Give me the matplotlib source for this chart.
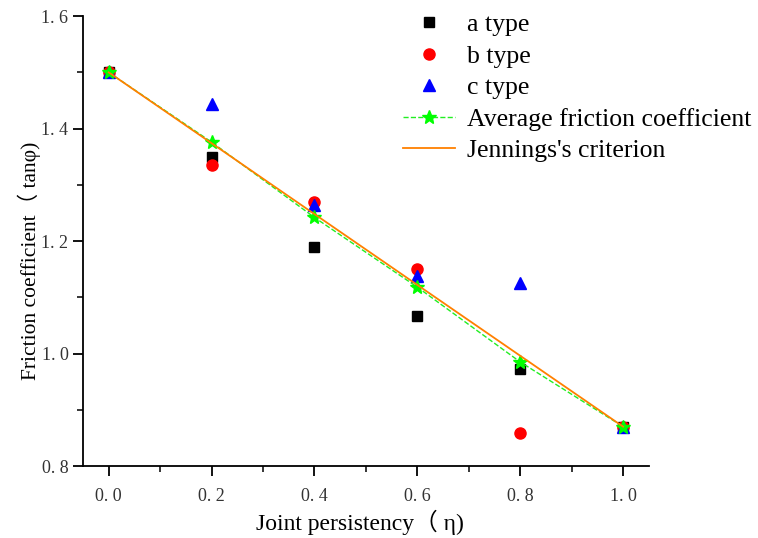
import numpy as np
import matplotlib
matplotlib.use('Agg')
import matplotlib.pyplot as plt
from matplotlib.ticker import MultipleLocator

plt.rcParams['font.family'] = ['Liberation Serif', 'Noto Sans CJK SC', 'DejaVu Sans']
plt.rcParams['mathtext.fontset'] = 'stix'

# data
eta = [0.0, 0.2, 0.4, 0.6, 0.8, 1.0]
a_type = [1.5, 1.350, 1.190, 1.067, 0.972, 0.870]
b_type = [1.5, 1.335, 1.270, 1.150, 0.858, 0.870]
c_type = [1.5, 1.443, 1.265, 1.138, 1.126, 0.870]
avg_coef = [1.5, 1.376, 1.242, 1.118, 0.985, 0.870]
jennings = [1.5, 1.374, 1.248, 1.122, 0.996, 0.870]

fig = plt.figure(figsize=(7.58, 5.38), dpi=100)
ax = fig.add_axes([0.1095, 0.1338, 0.7465, 0.8362])

ax.plot(eta, a_type, 's', color='black', markersize=7, linestyle='none', label='a type')
ax.plot(eta, b_type, 'o', color='red', markersize=8, linestyle='none', label='b type')
ax.plot(eta, c_type, '^', color='blue', markersize=8, linestyle='none', label='c type')
ax.plot(eta, avg_coef, '--', color='#22ee22', marker='*', markersize=10,
        markerfacecolor='#00ff00', markeredgecolor='#00ff00', linewidth=1,
        label='Average friction coefficient')
ax.plot(eta, jennings, '-', color='#ff8000', linewidth=1.3, label="Jennings's criterion")

ax.set_xlim(-0.05, 1.05)
ax.set_ylim(0.8, 1.6)
ax.xaxis.set_major_locator(MultipleLocator(0.2))
ax.xaxis.set_minor_locator(MultipleLocator(0.1))
ax.yaxis.set_major_locator(MultipleLocator(0.2))
ax.yaxis.set_minor_locator(MultipleLocator(0.1))
fmt = plt.FuncFormatter(lambda v, p: ('%.1f' % v).replace('.', '. '))
ax.xaxis.set_major_formatter(fmt)
ax.yaxis.set_major_formatter(fmt)

for s in ['top', 'right']:
    ax.spines[s].set_visible(False)
for s in ['left', 'bottom']:
    ax.spines[s].set_linewidth(1.3)
ax.tick_params(which='major', direction='out', length=7, width=1.3, labelsize=13,
               colors='black', labelcolor='#333333')
ax.tick_params(axis='x', which='major', pad=9)
ax.tick_params(which='minor', direction='out', length=4, width=1.1)

ax.set_xlabel('Joint persistency（ η)', fontsize=17)
ax.set_ylabel('Friction coefficient（ tanφ)', fontsize=15.5)
ax.xaxis.set_label_coords(0.489, -0.097)
ax.yaxis.set_label_coords(-0.074, 0.456)

ax.legend(loc='upper left', bbox_to_anchor=(0.532, 0.975), bbox_transform=fig.transFigure,
          frameon=False, fontsize=18.5, handlelength=2.0, handletextpad=0.5,
          labelspacing=0.33, borderaxespad=0, borderpad=0)

fig.savefig('out.png', dpi=100)
